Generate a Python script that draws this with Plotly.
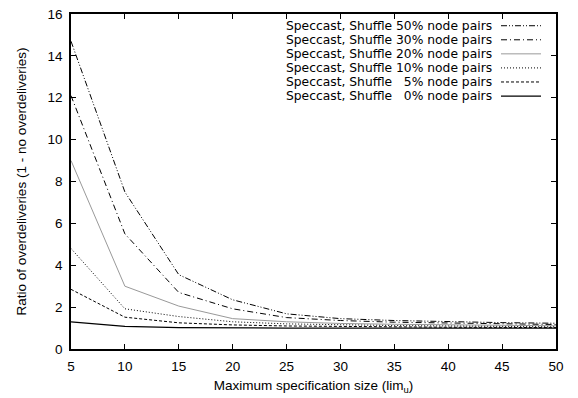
import plotly.graph_objects as go

x_vals = [5, 10, 15, 20, 25, 30, 35, 40, 45, 50]

labels = [
    "Speccast, Shuffle 50% node pairs",
    "Speccast, Shuffle 30% node pairs",
    "Speccast, Shuffle 20% node pairs",
    "Speccast, Shuffle 10% node pairs",
    "Speccast, Shuffle \u00a0 5% node pairs",
    "Speccast, Shuffle \u00a0 0% node pairs",
]

s50 = [14.7, 7.5, 3.55, 2.35, 1.68, 1.45, 1.36, 1.30, 1.26, 1.23]
s30 = [12.1, 5.5, 2.7, 1.92, 1.5, 1.36, 1.28, 1.24, 1.2, 1.17]
s20 = [9.0, 3.0, 2.05, 1.45, 1.3, 1.22, 1.18, 1.15, 1.13, 1.11]
s10 = [4.8, 1.92, 1.55, 1.3, 1.2, 1.15, 1.12, 1.1, 1.08, 1.06]
s5 = [2.85, 1.52, 1.25, 1.15, 1.1, 1.07, 1.05, 1.04, 1.03, 1.02]
s0 = [1.3, 1.08, 1.02, 1.0, 1.0, 1.0, 1.0, 1.0, 1.0, 1.0]

series = [s50, s30, s20, s10, s5, s0]
colors = ["black", "black", "#999999", "black", "black", "black"]
dashes = ["6px,2px,1px,2px,1px,2px", "6px,3px,1px,3px", "solid", "1px,2px", "3px,2px", "solid"]
widths = [1, 1, 1, 1, 1, 1.2]

fig = go.Figure()
for lab, ys, c, d, w in zip(labels, series, colors, dashes, widths):
    fig.add_trace(go.Scatter(x=x_vals, y=ys, mode="lines", name=lab,
                             line=dict(color=c, dash=d, width=w), showlegend=False))

# gnuplot-style legend: right-aligned text, sample line on the right
plot_left, plot_w = 71, 485
plot_top, plot_h = 7, 343
for i, (lab, c, d, w) in enumerate(zip(labels, colors, dashes, widths)):
    ry = 19 + 14.4 * i
    py = 1 - (ry - plot_top) / plot_h
    fig.add_annotation(x=(493 - plot_left) / plot_w, y=py, xref="paper", yref="paper",
                       text=lab, showarrow=False, borderpad=0,
                       xanchor="right", yanchor="middle",
                       font=dict(size=12.3, color="black", family="DejaVu Sans"))
    fig.add_shape(type="line", xref="paper", yref="paper",
                  x0=(501 - plot_left) / plot_w, x1=(541 - plot_left) / plot_w, y0=py, y1=py,
                  line=dict(color=c, dash=d, width=w))

axis_common = dict(showline=True, linecolor="black", linewidth=1.5, mirror="ticks",
                   ticks="inside", ticklen=5, tickcolor="black", showgrid=False,
                   zeroline=False, tickfont=dict(size=13.5, color="black"))

fig.update_xaxes(range=[5, 50], tickvals=x_vals,
                 title=dict(text="Maximum specification size (lim<sub>u</sub>)",
                            font=dict(size=13.5, color="black"), standoff=8),
                 ticklabelstandoff=4,
                 **axis_common)
fig.update_yaxes(range=[0, 16], tickvals=[0, 2, 4, 6, 8, 10, 12, 14, 16],
                 title=dict(text="Ratio of overdeliveries (1 - no overdeliveries)",
                            font=dict(size=13.5, color="black"), standoff=18),
                 ticklabelstandoff=4,
                 **axis_common)

fig.update_layout(width=578, height=398, margin=dict(l=71, r=22, t=7, b=48),
                  plot_bgcolor="white", paper_bgcolor="white",
                  font=dict(family="Liberation Sans", size=13.5, color="black"))

fig.write_html("out.html")
